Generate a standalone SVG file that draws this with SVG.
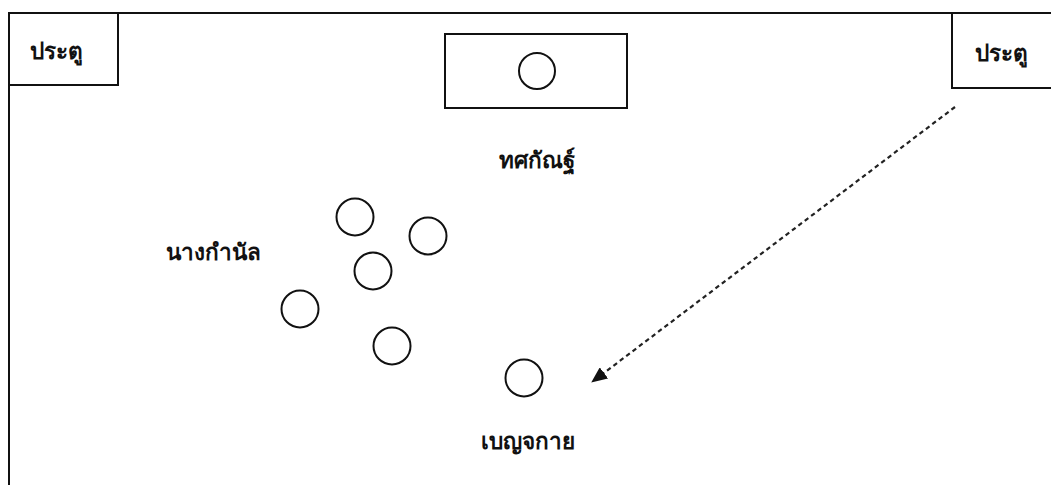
<svg xmlns="http://www.w3.org/2000/svg" width="1051" height="485" viewBox="0 0 1051 485">
<defs>
<style>
.ln{fill:none;stroke:#111;stroke-width:2}
.c{fill:none;stroke:#111;stroke-width:2}
.t{font-family:"Noto Sans","DejaVu Sans",sans-serif;font-weight:bold;font-size:22.5px;fill:#111}
.d{fill:none;stroke:#222;stroke-width:2.2;stroke-dasharray:4.5 3.5}
</style>
<marker id="ah" markerWidth="16" markerHeight="14" refX="15" refY="7" orient="auto" markerUnits="userSpaceOnUse" viewBox="0 0 16 14">
<path d="M0,0 L16,7 L0,14 z" fill="#111"/>
</marker>
</defs>
<rect width="1051" height="485" fill="#fff"/>
<g id="frame">
<path class="ln" d="M9,485 V13 H1051"/>
</g>
<g id="door-left">
<rect class="ln" x="9" y="13" width="109" height="72"/>
<text class="t" x="56" y="59" text-anchor="middle">ประตู</text>
</g>
<g id="door-right">
<path class="ln" d="M952,13 V88 H1051"/>
<text class="t" x="1001" y="61" text-anchor="middle">ประตู</text>
</g>
<g id="throne">
<rect class="ln" x="445" y="34" width="182" height="74"/>
<circle class="c" cx="537" cy="71" r="18"/>
</g>
<g id="label-thotsakan">
<text class="t" x="537" y="168" text-anchor="middle">ทศกัณฐ์</text>
</g>
<g id="ladies">
<circle class="c" cx="355" cy="217" r="18.5"/>
<circle class="c" cx="428" cy="236" r="18.5"/>
<circle class="c" cx="373" cy="271" r="18.5"/>
<circle class="c" cx="300" cy="309" r="18.5"/>
<circle class="c" cx="392" cy="346" r="18.5"/>
<text class="t" x="213" y="260" text-anchor="middle">นางกำนัล</text>
</g>
<g id="benjakai">
<circle class="c" cx="524" cy="378" r="18.5"/>
<text class="t" x="528" y="449" text-anchor="middle">เบญจกาย</text>
</g>
<g id="connectors">
<line class="d" x1="955" y1="107" x2="592" y2="382" marker-end="url(#ah)"/>
</g>
</svg>
